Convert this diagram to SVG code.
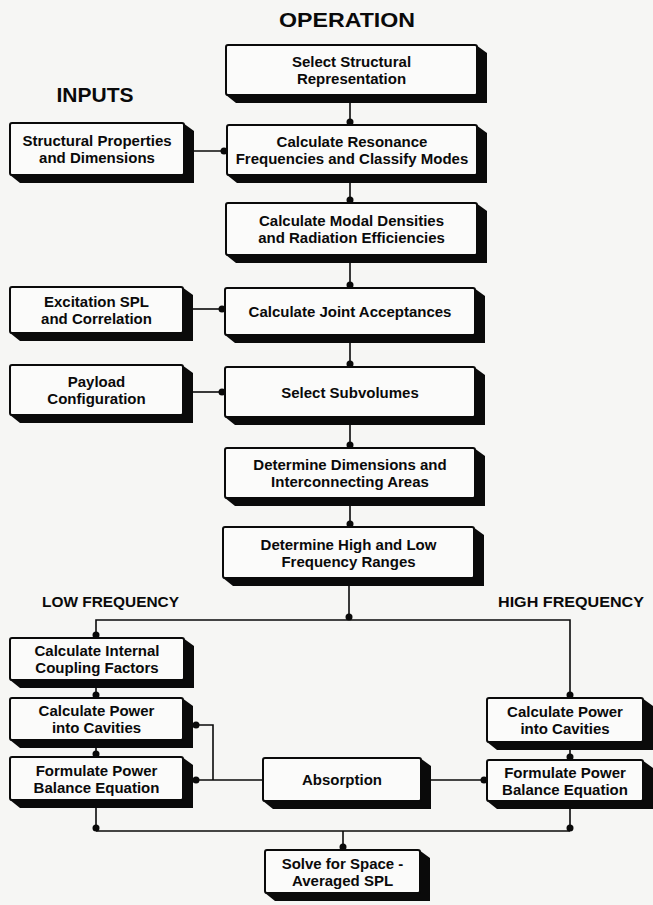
<svg xmlns="http://www.w3.org/2000/svg" width="653" height="905" viewBox="0 0 653 905">
<style>
.sh{fill:#0a0a0a}
.bx{fill:#fbfbfa;stroke:#0a0a0a;stroke-width:2}
.t{font-family:"Liberation Sans",Arial,sans-serif;font-weight:bold;font-size:15px;fill:#0a0a0a;text-anchor:middle}
.h{font-family:"Liberation Sans",Arial,sans-serif;font-weight:bold;fill:#0a0a0a;text-anchor:middle}
.c{fill:none;stroke:#0a0a0a;stroke-width:1.6}
.a{marker-end:url(#dot)}
</style>
<defs>
<marker id="dot" markerUnits="userSpaceOnUse" markerWidth="10" markerHeight="10" viewBox="-5 -5 10 10" refX="3" refY="0" orient="auto">
<circle cx="0" cy="0" r="3.5" fill="#0a0a0a"/>
</marker>
</defs>
<rect width="653" height="905" fill="#f6f6f4"/>
<text class="h" x="347" y="27" font-size="21" textLength="136" lengthAdjust="spacingAndGlyphs">OPERATION</text>
<text class="h" x="95" y="102" font-size="21" textLength="77" lengthAdjust="spacingAndGlyphs">INPUTS</text>
<text class="h" x="110.5" y="607" font-size="14" textLength="137" lengthAdjust="spacingAndGlyphs">LOW FREQUENCY</text>
<text class="h" x="571" y="607" font-size="14" textLength="146" lengthAdjust="spacingAndGlyphs">HIGH FREQUENCY</text>
<g id="connectors">
<path class="c a" d="M350 103 V125"/>
<path class="c a" d="M194 151 H227"/>
<path class="c a" d="M350 183 V203"/>
<path class="c a" d="M350 263 V288"/>
<path class="c a" d="M193 309 H225"/>
<path class="c a" d="M350 343 V367"/>
<path class="c a" d="M193 392 H225"/>
<path class="c a" d="M350 425 V448"/>
<path class="c a" d="M350 506 V527"/>
<path class="c a" d="M349 586 V620"/>
<path class="c a" d="M349 620 H96 V638"/>
<path class="c a" d="M349 620 H570 V698"/>
<path class="c a" d="M96 688 V698"/>
<path class="c a" d="M96 748 V757"/>
<path class="c a" d="M570 750 V760"/>
<path class="c a" d="M263 780 H193"/>
<path class="c a" d="M213 780 V725 H193"/>
<path class="c a" d="M431 780 H487"/>
<path class="c a" d="M96 808 V831"/>
<path class="c a" d="M570 809 V831"/>
<path class="c" d="M96 831 H570"/>
<path class="c a" d="M343 831 V850"/>
</g>
<g id="op1"><path class="sh" d="M476 45 L487 53 V103 H236 L226 95 Z"/><rect class="bx" x="226" y="45" width="251" height="50" rx="2"/><text class="t" x="351.5" y="67">Select Structural</text><text class="t" x="351.5" y="84">Representation</text></g>
<g id="in1"><path class="sh" d="M183 123 L194 131 V183 H20 L10 175 Z"/><rect class="bx" x="10" y="123" width="174" height="52" rx="2"/><text class="t" x="97" y="146">Structural Properties</text><text class="t" x="97" y="163">and Dimensions</text></g>
<g id="op2"><path class="sh" d="M476 125 L487 133 V183 H237 L227 175 Z"/><rect class="bx" x="227" y="125" width="250" height="50" rx="2"/><text class="t" x="352" y="147">Calculate Resonance</text><text class="t" x="352" y="164">Frequencies and Classify Modes</text></g>
<g id="op3"><path class="sh" d="M476 203 L487 211 V263 H236 L226 255 Z"/><rect class="bx" x="226" y="203" width="251" height="52" rx="2"/><text class="t" x="351.5" y="226">Calculate Modal Densities</text><text class="t" x="351.5" y="243">and Radiation Efficiencies</text></g>
<g id="in2"><path class="sh" d="M182 287 L193 295 V341 H20 L10 333 Z"/><rect class="bx" x="10" y="287" width="173" height="46" rx="2"/><text class="t" x="96.5" y="307">Excitation SPL</text><text class="t" x="96.5" y="324">and Correlation</text></g>
<g id="op4"><path class="sh" d="M474 288 L485 296 V343 H235 L225 335 Z"/><rect class="bx" x="225" y="288" width="250" height="47" rx="2"/><text class="t" x="350" y="317">Calculate Joint Acceptances</text></g>
<g id="in3"><path class="sh" d="M182 365 L193 373 V423 H20 L10 415 Z"/><rect class="bx" x="10" y="365" width="173" height="50" rx="2"/><text class="t" x="96.5" y="387">Payload</text><text class="t" x="96.5" y="404">Configuration</text></g>
<g id="op5"><path class="sh" d="M474 367 L485 375 V425 H235 L225 417 Z"/><rect class="bx" x="225" y="367" width="250" height="50" rx="2"/><text class="t" x="350" y="397.5">Select Subvolumes</text></g>
<g id="op6"><path class="sh" d="M474 448 L485 456 V506 H235 L225 498 Z"/><rect class="bx" x="225" y="448" width="250" height="50" rx="2"/><text class="t" x="350" y="470">Determine Dimensions and</text><text class="t" x="350" y="487">Interconnecting Areas</text></g>
<g id="op7"><path class="sh" d="M473 527 L484 535 V586 H233 L223 578 Z"/><rect class="bx" x="223" y="527" width="251" height="51" rx="2"/><text class="t" x="348.5" y="549.5">Determine High and Low</text><text class="t" x="348.5" y="566.5">Frequency Ranges</text></g>
<g id="lf1"><path class="sh" d="M183 638 L194 646 V688 H20 L10 680 Z"/><rect class="bx" x="10" y="638" width="174" height="42" rx="2"/><text class="t" x="97" y="656">Calculate Internal</text><text class="t" x="97" y="673">Coupling Factors</text></g>
<g id="lf2"><path class="sh" d="M182 698 L193 706 V748 H20 L10 740 Z"/><rect class="bx" x="10" y="698" width="173" height="42" rx="2"/><text class="t" x="96.5" y="716">Calculate Power</text><text class="t" x="96.5" y="733">into Cavities</text></g>
<g id="lf3"><path class="sh" d="M182 757 L193 765 V808 H20 L10 800 Z"/><rect class="bx" x="10" y="757" width="173" height="43" rx="2"/><text class="t" x="96.5" y="775.5">Formulate Power</text><text class="t" x="96.5" y="792.5">Balance Equation</text></g>
<g id="abs"><path class="sh" d="M420 758 L431 766 V809 H273 L263 801 Z"/><rect class="bx" x="263" y="758" width="158" height="43" rx="2"/><text class="t" x="342" y="785">Absorption</text></g>
<g id="hf1"><path class="sh" d="M642 698 L653 706 V750 H497 L487 742 Z"/><rect class="bx" x="487" y="698" width="156" height="44" rx="2"/><text class="t" x="565" y="717">Calculate Power</text><text class="t" x="565" y="734">into Cavities</text></g>
<g id="hf2"><path class="sh" d="M642 760 L653 768 V809 H497 L487 801 Z"/><rect class="bx" x="487" y="760" width="156" height="41" rx="2"/><text class="t" x="565" y="777.5">Formulate Power</text><text class="t" x="565" y="794.5">Balance Equation</text></g>
<g id="solve"><path class="sh" d="M419 850 L430 858 V901 H275 L265 893 Z"/><rect class="bx" x="265" y="850" width="155" height="43" rx="2"/><text class="t" x="342.5" y="868.5">Solve for Space -</text><text class="t" x="342.5" y="885.5">Averaged SPL</text></g>
</svg>
